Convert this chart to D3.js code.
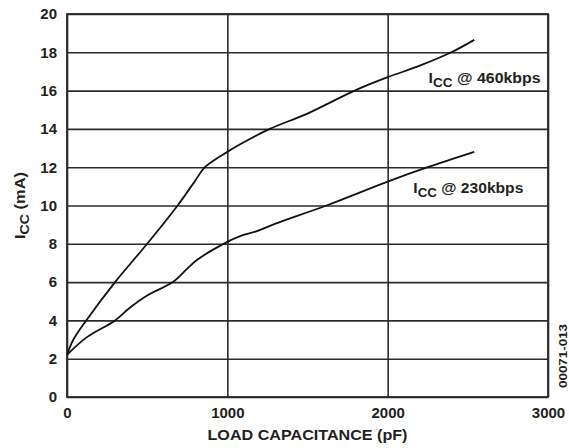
<!DOCTYPE html>
<html>
<head>
<meta charset="utf-8">
<script src="https://cdn.jsdelivr.net/npm/d3@7"></script>
<style>
    body { margin: 0; background: #fff; }
    svg text { font-family: "Liberation Sans", Arial, sans-serif; font-weight: bold; fill: #231f20; }
</style>
</head>
<body>
<div id="chart"></div>
<script>
// load capacitance (pF) vs supply current (mA)
const cap460 = [0, 40, 120, 300, 500, 690, 800, 860, 1000, 1080, 1265, 1500, 1794, 2000, 2200, 2397, 2540];
const icc460 = [2.2, 3.0, 4.0, 6.0, 8.0, 10.0, 11.3, 12.0, 12.8, 13.2, 14.0, 14.8, 16.0, 16.7, 17.3, 18.0, 18.65];
const cap230 = [0, 120, 300, 390, 500, 660, 750, 810, 1000, 1080, 1180, 1300, 1618, 2000, 2250, 2540];
const icc230 = [2.2, 3.1, 4.0, 4.65, 5.3, 6.0, 6.7, 7.15, 8.1, 8.4, 8.65, 9.05, 10.0, 11.25, 12.0, 12.8];
const xTicks = [0, 1000, 2000, 3000];
const yTicks = [0, 2, 4, 6, 8, 10, 12, 14, 16, 18, 20];

(function() {
    'use strict';

    const W = 569, H = 448;
    const margin = { top: 14, right: 21, bottom: 51, left: 67 };
    const w = W - margin.left - margin.right;
    const h = H - margin.top - margin.bottom;

    const svg = d3.select('#chart').append('svg')
        .attr('width', W)
        .attr('height', H);

    const g = svg.append('g')
        .attr('transform', `translate(${margin.left},${margin.top})`);

    const x = d3.scaleLinear().domain([0, 3000]).range([0, w]);
    const y = d3.scaleLinear().domain([0, 20]).range([h, 0]);

    // grid + axes
    const xAxis = g.append('g')
        .attr('transform', `translate(0,${h})`)
        .call(d3.axisBottom(x).tickValues(xTicks).tickSize(-h).tickPadding(10).tickFormat(d3.format('d')));
    const yAxis = g.append('g')
        .call(d3.axisLeft(y).tickValues(yTicks).tickSize(-w).tickPadding(10));

    [xAxis, yAxis].forEach(a => {
        a.select('.domain').remove();
        a.selectAll('line').attr('stroke', '#2b2b2b').attr('stroke-width', 1.6);
        a.selectAll('text').attr('font-size', 15).attr('fill', '#231f20')
            .style('font-family', '"Liberation Sans", Arial, sans-serif').style('font-weight', 'bold');
    });

    g.append('rect')
        .attr('width', w).attr('height', h)
        .attr('fill', 'none').attr('stroke', '#2b2b2b').attr('stroke-width', 1.8);

    // curves
    const line = d3.line()
        .x(d => x(d[0]))
        .y(d => y(d[1]))
        .curve(d3.curveCatmullRom.alpha(0.5));

    [[cap460, icc460], [cap230, icc230]].forEach(([cs, vs]) => {
        g.append('path')
            .datum(cs.map((c, i) => [c, vs[i]]))
            .attr('d', line)
            .attr('fill', 'none')
            .attr('stroke', '#111')
            .attr('stroke-width', 1.8);
    });

    // series labels
    function seriesLabel(px, py, rate, len) {
        const t = g.append('text')
            .attr('x', px).attr('y', py)
            .attr('font-size', 14)
            .attr('textLength', len)
            .attr('lengthAdjust', 'spacingAndGlyphs');
        t.append('tspan').text('I');
        t.append('tspan').attr('dy', 4).attr('font-size', 12).text('CC');
        t.append('tspan').attr('dy', -4).text(' @ ' + rate);
    }
    seriesLabel(x(2255), y(16.4), '460kbps', 112);
    seriesLabel(x(2160), y(10.65), '230kbps', 110);

    // axis titles
    svg.append('text')
        .attr('x', margin.left + w / 2)
        .attr('y', 440)
        .attr('text-anchor', 'middle')
        .attr('font-size', 15)
        .attr('textLength', 200)
        .attr('lengthAdjust', 'spacingAndGlyphs')
        .text('LOAD CAPACITANCE (pF)');

    const yt = svg.append('text')
        .attr('transform', `translate(25,${margin.top + h / 2}) rotate(-90)`)
        .attr('text-anchor', 'middle')
        .attr('font-size', 14)
        .attr('textLength', 67)
        .attr('lengthAdjust', 'spacingAndGlyphs');
    yt.append('tspan').text('I');
    yt.append('tspan').attr('dy', 4).attr('font-size', 12).text('CC');
    yt.append('tspan').attr('dy', -4).text(' (mA)');

    // figure id
    svg.append('text')
        .attr('transform', 'translate(567,356) rotate(-90)')
        .attr('text-anchor', 'middle')
        .attr('font-size', 10)
        .attr('textLength', 64)
        .attr('lengthAdjust', 'spacingAndGlyphs')
        .text('00071-013');
})();
</script>
</body>
</html>
